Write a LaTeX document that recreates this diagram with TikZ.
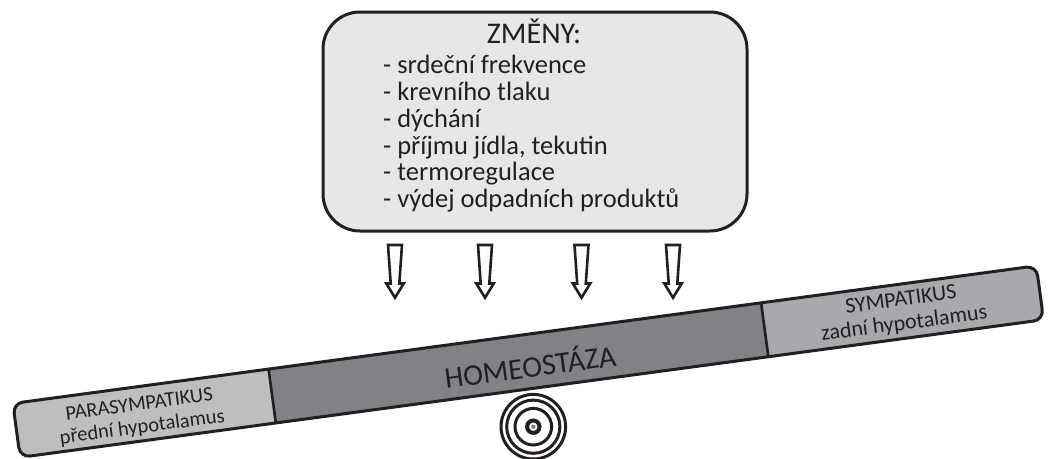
\documentclass[tikz,border=0pt]{standalone}
\usepackage{fontspec}
\setmainfont{Carlito}
\definecolor{boxfill}{HTML}{E6E7E8}
\definecolor{leftc}{HTML}{BCBEC0}
\definecolor{midc}{HTML}{808285}
\definecolor{rightc}{HTML}{A7A9AC}
\definecolor{ink}{HTML}{231F20}
\tikzset{
  outline/.style={draw=ink, line width=3pt},
  blockarrow/.style={draw=ink, fill=white, line width=2.6pt, line join=miter},
  ring/.style={draw=ink, line width=3pt},
  listline/.style={anchor=base west, inner sep=0pt, text=ink, font=\fontsize{26.5}{27}\selectfont},
  beamtext/.style={text=ink, align=center, inner sep=0pt, rotate=7.66},
}
\begin{document}
\begin{tikzpicture}[x=1pt,y=-1pt]
\useasboundingbox (0,0) rectangle (1048,458);
% top box
\draw[outline, fill=boxfill, rounded corners=37pt] (323,12) rectangle (747,231);
\node[anchor=base, inner sep=0pt, text=ink, font=\fontsize{30}{36}\selectfont] (title) at (534,43) {ZMĚNY:};
\node[listline] (l1) at (383,73.3) {- srdeční frekvence};
\node[listline] (l2) at (383,100.2) {- krevního tlaku};
\node[listline] (l3) at (383,127.1) {- dýchání};
\node[listline] (l4) at (383,154) {- příjmu jídla, tekutin};
\node[listline] (l5) at (383,180.9) {- termoregulace};
\node[listline] (l6) at (383,207.8) {- výdej odpadních produktů};
% arrows
\foreach \cx in {395,485,581.5,673}{
  \draw[blockarrow] (\cx-7,245) -- (\cx-4.3,283.5) -- (\cx-8.7,283.5) -- (\cx,297.7)
     -- (\cx+8.7,283.5) -- (\cx+4.3,283.5) -- (\cx+7,245) -- cycle;
}
% pivot
\coordinate (pivot) at (533.3,426.7);
\draw[ring] (pivot) circle[radius=32.3];
\draw[ring] (pivot) circle[radius=26.6];
\draw[ring] (pivot) circle[radius=18.3];
\draw[ink, line width=4pt] (pivot) circle[radius=6.2];
\fill[gray] (pivot) circle[radius=2.2];
% beam
\begin{scope}[shift={(16.5,430.4)}, rotate=7.66]
  \begin{scope}
    \clip[rounded corners=10pt] (0,-27.2) rectangle (1032.7,27.2);
    \fill[leftc] (-5,-30) rectangle (258,30);
    \fill[midc] (258,-30) rectangle (755,30);
    \fill[rightc] (755,-30) rectangle (1040,30);
  \end{scope}
  \draw[ink, line width=2.6pt] (258,-27.2) -- (258,27.2);
  \draw[ink, line width=2.6pt] (755,-27.2) -- (755,27.2);
  \draw[outline, rounded corners=10pt] (0,-27.2) rectangle (1032.7,27.2);
  \node[beamtext, font=\fontsize{20.5}{23}\selectfont] (para) at (125,3) {PARASYMPATIKUS\\přední hypotalamus};
  \node[beamtext, font=\fontsize{30}{36}\selectfont] (homeo) at (517.6,3.6) {HOMEOSTÁZA};
  \node[beamtext, font=\fontsize{22}{24}\selectfont] (sym) at (894,1.3) {SYMPATIKUS\\zadní hypotalamus};
\end{scope}
\end{tikzpicture}
\end{document}
